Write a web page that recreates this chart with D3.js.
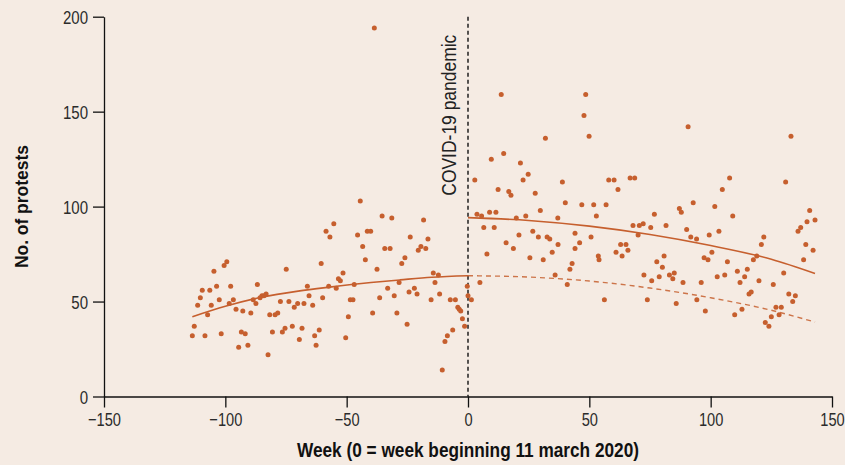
<!DOCTYPE html>
<html>
<head>
<meta charset="utf-8">
<script src="https://cdn.jsdelivr.net/npm/d3@7"></script>
<style>
  html, body { margin: 0; padding: 0; background: #f5ebe3; }
  svg { display: block; }
  text { font-family: "Liberation Sans", Arial, sans-serif; }
</style>
</head>
<body>
<svg id="chart" width="845" height="465"></svg>
<script>
// ---- data ----
const preWeeks = [-113.6,-112.8,-111.4,-110.3,-109.5,-108.4,-107.3,-106.4,-105.8,-104.7,
  -103.6,-102.5,-101.7,-100.5,-99.4,-98.4,-97.8,-96.7,-95.6,-94.5,
  -93.4,-92.8,-91.8,-90.7,-89.5,-88.5,-87.4,-86.8,-85.7,-84.9,
  -84.1,-83.2,-82.4,-81.7,-80.6,-79.5,-78.4,-77.3,-76.5,-75.4,
  -74.9,-73.8,-72.4,-71.6,-70.2,-69.5,-68.4,-67.6,-66.2,-65.5,
  -64.0,-63.2,-62.6,-61.3,-60.5,-59.9,-58.5,-57.4,-56.9,-55.3,
  -54.3,-53.4,-52.6,-51.5,-50.4,-49.3,-48.5,-47.4,-46.9,-45.5,
  -44.4,-43.4,-42.3,-41.5,-40.1,-39.3,-38.6,-37.5,-36.4,-35.4,
  -34.3,-33.1,-32.1,-31.4,-30.4,-29.3,-28.4,-27.3,-26.0,-25.1,
  -24.3,-23.8,-22.1,-21.0,-20.5,-19.4,-18.3,-17.4,-16.5,-15.2,
  -14.3,-13.6,-12.2,-11.7,-10.6,-9.5,-8.5,-7.3,-6.3,-5.2,
  -4.2,-3.6,-3.0,-2.3,-1.4,-0.3];
const preValues = [32,37,48,52,56,32,43,56,48,66,
  58,51,33,69,71,49,58,51,46,26,
  34,45,33,27,44,51,49,59,52,53,
  53,54,22,43,34,43,44,50,34,36,
  67,50,37,47,49,30,36,49,58,53,
  48,32,27,35,70,52,87,58,84,91,
  57,62,61,65,31,42,51,51,59,85,
  103,79,72,87,87,44,194,67,52,95,
  78,57,78,94,53,44,60,70,73,38,
  55,84,57,54,77,79,93,78,83,51,
  65,60,64,54,14,29,32,51,35,51,
  47,46,45,41,37,58];

const postWeeks = [0.0,1.4,2.8,3.7,4.9,5.6,6.5,7.8,8.9,9.6,
  10.8,11.5,12.4,13.7,14.7,15.7,16.8,17.7,18.7,19.9,
  21.0,21.6,22.7,23.8,24.8,25.5,26.7,27.7,29.0,29.8,
  31.0,31.9,32.6,33.7,34.7,35.9,37.0,37.1,38.9,40.1,
  40.9,42.0,42.9,44.1,44.1,46.0,46.9,47.8,48.5,49.9,
  50.7,51.8,52.9,53.7,54.0,56.2,56.9,58.0,60.2,61.0,
  61.8,62.9,63.5,65.1,65.9,66.8,68.0,68.7,70.1,70.6,
  72.2,72.5,73.9,75.3,75.7,76.8,77.8,78.8,80.1,80.8,
  81.6,83.0,84.4,85.0,85.8,87.1,87.9,88.6,90.1,90.7,
  91.8,92.8,94.2,94.3,96.1,97.3,97.8,98.9,99.4,100.5,
  101.7,102.7,103.4,104.8,105.8,106.9,107.8,109.1,109.9,111.0,
  112.1,112.9,114.0,115.1,115.8,116.7,117.6,119.0,119.9,120.9,
  121.9,122.5,124.0,125.0,125.8,126.9,128.2,129.1,130.1,130.9,
  132.2,133.1,133.8,134.9,136.0,137.1,138.3,139.2,139.7,140.8,
  142.2,143.0];
const postValues = [53,51,114,96,60,95,89,75,97,125,
  89,97,109,159,128,81,108,106,78,94,
  85,123,114,95,117,73,87,107,84,98,
  72,136,84,83,76,64,94,80,113,102,
  59,67,70,86,78,81,101,148,159,137,
  84,101,95,74,72,51,101,114,114,76,
  109,80,74,80,77,115,90,115,85,90,
  91,64,51,89,61,96,71,63,68,74,
  90,64,62,65,49,99,97,60,88,142,
  84,102,83,51,60,73,45,72,85,76,
  100,63,87,109,64,71,115,95,43,66,
  60,46,63,67,54,55,72,74,61,80,
  84,39,37,42,59,47,43,47,65,113,
  54,137,50,53,87,89,72,80,92,98,
  77,93];

// fitted trend curves
const preFitWeeks  = [-113.6,-100,-85,-70,-57,-40,-28,-15,0];
const preFitValues = [42,47.5,52.3,55.5,57.6,60,61.4,62.8,63.6];
const postFitWeeks  = [0,25,50,75,100,125,143];
const postFitValues = [94.2,92.7,89.7,85.3,79.5,72.3,64.8];
const cfWeeks  = [0,25,50,75,100,125,143];
const cfValues = [63.6,62.9,60.8,57.1,52.0,45.4,39.2];

const xTicks = [-150,-100,-50,0,50,100,150];
const yTicks = [0,50,100,150,200];
const eventWeek = 0;
const eventLabel = "COVID-19 pandemic";
const xTitle = "Week (0 = week beginning 11 march 2020)";
const yTitle = "No. of protests";

// ---- drawing ----
const ORANGE = "#c65f2e";
const svg = d3.select("#chart");
const x = d3.scaleLinear().domain([-150,150]).range([104,832]);
const y = d3.scaleLinear().domain([0,200]).range([396.5,16.7]);

const fmt = d => d < 0 ? "\u2212" + Math.abs(d) : String(d);

// narrow the glyphs horizontally (the reference uses a condensed face)
function condense(sel, factor, fixed) {
  sel.each(function() {
    const w = fixed || this.getComputedTextLength() * factor;
    d3.select(this).attr("textLength", w).attr("lengthAdjust", "spacingAndGlyphs");
  });
}

// axes
const xAxis = svg.append("g").attr("transform", `translate(0,${y(0)})`)
  .call(d3.axisBottom(x).tickValues(xTicks).tickSize(11).tickSizeOuter(0).tickPadding(5).tickFormat(fmt));
const yAxis = svg.append("g").attr("transform", `translate(${x(-150)},0)`)
  .call(d3.axisLeft(y).tickValues(yTicks).tickSize(11).tickSizeOuter(0).tickPadding(5).tickFormat(fmt));
[xAxis, yAxis].forEach(g => {
  g.attr("font-family", null).attr("font-size", null);
  g.selectAll("path.domain").attr("stroke","#111").attr("stroke-width",1.3);
  g.selectAll(".tick line").attr("stroke","#111").attr("stroke-width",1.3);
  g.selectAll(".tick text").attr("fill","#2b2b2b").style("font-size","19px");
});
xAxis.selectAll(".tick text").attr("dy","0.72em");
yAxis.selectAll(".tick text").attr("dy","0.35em");
condense(xAxis.selectAll(".tick text"), 0.77);
condense(yAxis.selectAll(".tick text"), 0.79);

// event line
svg.append("line")
  .attr("x1", x(eventWeek)).attr("x2", x(eventWeek))
  .attr("y1", y(200)).attr("y2", y(0))
  .attr("stroke","#111").attr("stroke-width",1.4).attr("stroke-dasharray","4,3");

const ev = svg.append("text")
  .attr("transform", `translate(${x(eventWeek)-12},${y(200)+18}) rotate(-90)`)
  .attr("text-anchor","end")
  .attr("fill","#222")
  .style("font-size","21px")
  .text(eventLabel);
condense(ev, 0, 161);

// fit lines
const line = d3.line().x(d => x(d[0])).y(d => y(d[1])).curve(d3.curveMonotoneX);
svg.append("path").datum(d3.zip(preFitWeeks, preFitValues))
  .attr("d", line).attr("fill","none").attr("stroke",ORANGE).attr("stroke-width",1.6);
svg.append("path").datum(d3.zip(postFitWeeks, postFitValues))
  .attr("d", line).attr("fill","none").attr("stroke",ORANGE).attr("stroke-width",1.6);
svg.append("path").datum(d3.zip(cfWeeks, cfValues))
  .attr("d", line).attr("fill","none").attr("stroke",ORANGE).attr("stroke-width",1.4)
  .attr("stroke-dasharray","5,4").attr("opacity",0.85);

// points
const pts = d3.zip(preWeeks, preValues).concat(d3.zip(postWeeks, postValues));
svg.append("g").selectAll("circle").data(pts).join("circle")
  .attr("cx", d => x(d[0])).attr("cy", d => y(d[1])).attr("r", 2.5)
  .attr("fill", ORANGE);

// axis titles
const xt = svg.append("text")
  .attr("x", x(0)).attr("y", 457)
  .attr("text-anchor","middle").attr("fill","#111")
  .style("font-size","21px").style("font-weight","bold")
  .text(xTitle);
condense(xt, 0, 342);
const yt = svg.append("text")
  .attr("transform", `translate(28,${(y(0)+y(200))/2}) rotate(-90)`)
  .attr("text-anchor","middle").attr("fill","#111")
  .style("font-size","19px").style("font-weight","bold")
  .text(yTitle);
condense(yt, 0, 123);
</script>
</body>
</html>
